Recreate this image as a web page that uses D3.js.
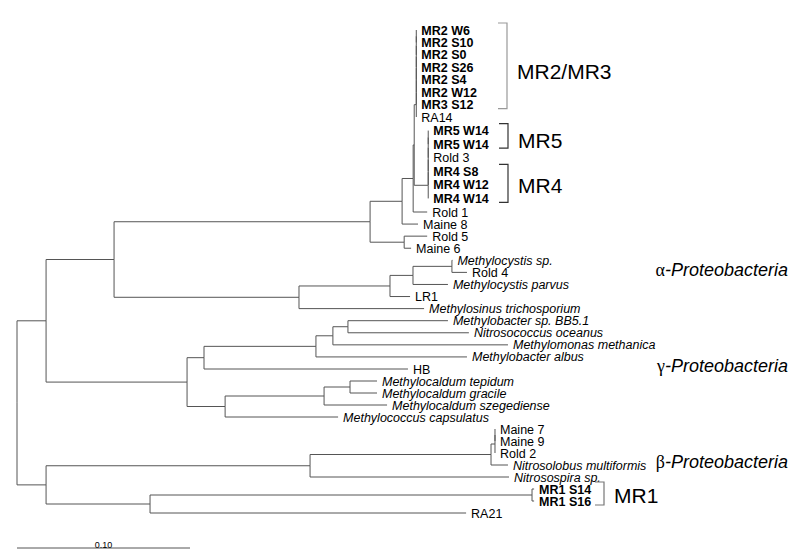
<!DOCTYPE html>
<html>
<head>
<meta charset="utf-8">
<script src="https://cdn.jsdelivr.net/npm/d3@7"></script>
<style>
body { margin: 0; background: #fff; }
text { font-family: "Liberation Sans", Arial, sans-serif; }
</style>
</head>
<body>
<svg id="tree"></svg>
<script>

// tree: [node, parent, branch length]  (children listed in display order)
var branches = [
  ["root", null, 0],
  ["A", "root", 0.0168],
  ["al", "A", 0.0393],
  ["a1", "al", 0.1480],
  ["a2", "a1", 0.0185],
  ["a3", "a2", 0.0064],
  ["a4", "a3", 0.0006],
  ["m23", "a4", 0.0012],
  ["m23a", "m23", 0], ["m23b", "m23a", 0], ["m23c", "m23b", 0],
  ["m23d", "m23c", 0], ["m23e", "m23d", 0], ["m23f", "m23e", 0],
  ["MR2 W6", "m23f", 0], ["MR2 S10", "m23f", 0], ["MR2 S0", "m23e", 0],
  ["MR2 S26", "m23d", 0], ["MR2 S4", "m23c", 0], ["MR2 W12", "m23b", 0],
  ["MR3 S12", "m23a", 0], ["RA14", "m23", 0],
  ["m45", "a4", 0.0081],
  ["m45a", "m45", 0], ["m45b", "m45a", 0], ["m45c", "m45b", 0], ["m45d", "m45c", 0],
  ["MR5 W14", "m45d", 0], ["MR5 W14#2", "m45d", 0], ["Rold 3", "m45c", 0],
  ["MR4 S8", "m45b", 0], ["MR4 W12", "m45a", 0], ["MR4 W14", "m45", 0],
  ["Rold 1", "a3", 0.0081],
  ["Maine 8", "a2", 0.0092],
  ["a5", "a1", 0.0197],
  ["Rold 5", "a5", 0.0133],
  ["Maine 6", "a5", 0.0040],
  ["a6", "al", 0.1069],
  ["a7", "a6", 0.0526],
  ["a8", "a7", 0.0133],
  ["a9", "a8", 0.0225],
  ["Methylocystis sp.", "a9", 0.0003],
  ["Rold 4", "a9", 0.0087],
  ["Methylocystis parvus", "a8", 0.0202],
  ["LR1", "a7", 0.0116],
  ["Methylosinus trichosporium", "a6", 0.0723],
  ["ga", "A", 0.0815],
  ["g1", "ga", 0.0098],
  ["g2", "g1", 0.0647],
  ["g3", "g2", 0.0098],
  ["g4", "g3", 0.0087],
  ["Methylobacter sp. BB5.1", "g4", 0.0578],
  ["Nitrosococcus oceanus", "g4", 0.0699],
  ["Methylomonas methanica", "g3", 0.1012],
  ["Methylobacter albus", "g2", 0.0873],
  ["HB", "g1", 0.1179],
  ["g5", "ga", 0.0220],
  ["g6", "g5", 0.0572],
  ["g7", "g6", 0.0150],
  ["Methylocaldum tepidum", "g7", 0.0156],
  ["Methylocaldum gracile", "g7", 0.0156],
  ["Methylocaldum szegediense", "g6", 0.0364],
  ["Methylococcus capsulatus", "g5", 0.0653],
  ["B", "root", 0.0168],
  ["b1", "B", 0.1526],
  ["b2", "b1", 0.1046],
  ["b3", "b2", 0.0023],
  ["b3a", "b3", 0],
  ["Maine 7", "b3a", 0], ["Maine 9", "b3a", 0], ["Rold 2", "b3", 0],
  ["Nitrosolobus multiformis", "b2", 0.0098],
  ["Nitrosospira sp.", "b1", 0.1150],
  ["b4", "B", 0.0601],
  ["b5", "b4", 0.2208],
  ["MR1 S14", "b5", 0.0012], ["MR1 S16", "b5", 0.0012],
  ["RA21", "b4", 0.1827]
];

var italicLeaves = ["Methylocystis sp.", "Methylocystis parvus", "Methylosinus trichosporium",
  "Methylobacter sp. BB5.1", "Nitrosococcus oceanus", "Methylomonas methanica",
  "Methylobacter albus", "Methylocaldum tepidum", "Methylocaldum gracile",
  "Methylocaldum szegediense", "Methylococcus capsulatus", "Nitrosolobus multiformis",
  "Nitrosospira sp."];

// bracketed sample groups
var groupNames = ["MR2/MR3", "MR5", "MR4", "MR1"];
var groupFirst = ["MR2 W6", "MR5 W14", "MR4 S8", "MR1 S14"];
var groupLast  = ["MR3 S12", "MR5 W14#2", "MR4 W14", "MR1 S16"];

// class labels, placed on the row of a leaf
var cladeGreek = ["\u03b1", "\u03b3", "\u03b2"];
var cladeNames = ["-Proteobacteria", "-Proteobacteria", "-Proteobacteria"];
var cladeRow   = ["Rold 4", "HB", "Nitrosolobus multiformis"];

var scaleBar = [0, 0.10];
var scaleLabel = "0.10";

// styles for the brackets
var bracketStyle = {
  "MR2/MR3": {x: 507, color: "#999", size: 21, dy: 6},
  "MR5":     {x: 508, color: "#333", size: 21, dy: 5},
  "MR4":     {x: 508, color: "#333", size: 21, dy: 2},
  "MR1":     {x: 604, color: "#777", size: 21, dy: 2}
};

var width = 800, height = 559;

var svg = d3.select("#tree")
    .attr("width", width)
    .attr("height", height);

var x = d3.scaleLinear().domain([0, 0.1]).range([17, 190]);
// leaf rows (slightly wider spacing at the top, as in the figure)
var y = d3.scaleLinear().domain([0, 7, 14, 27, 39]).range([30, 117, 212, 369, 513]);

var root = d3.stratify()
    .id(function(d) { return d[0]; })
    .parentId(function(d) { return d[1]; })(branches);

root.eachBefore(function(n) {
  n.dist = n.parent ? n.parent.dist + n.data[2] : 0;
});
var leaves = root.leaves();
leaves.forEach(function(n, i) { n.row = i; n.py = y(i); });
root.eachAfter(function(n) {
  if (n.children) n.py = (n.children[0].py + n.children[n.children.length - 1].py) / 2;
});
var byId = {};
root.each(function(n) { byId[n.id] = n; });

// elbow links
svg.append("g")
    .attr("fill", "none")
    .attr("stroke", "#555")
    .attr("stroke-width", 1)
  .selectAll("path")
  .data(root.links())
  .enter().append("path")
    .attr("d", function(l) {
      return "M" + x(l.source.dist) + "," + l.source.py +
             "V" + l.target.py + "H" + x(l.target.dist);
    });

// leaf labels
svg.append("g")
  .selectAll("text")
  .data(leaves)
  .enter().append("text")
    .attr("x", function(d) { return x(d.dist) + 5; })
    .attr("y", function(d) { return d.py; })
    .attr("dy", "0.36em")
    .style("font-size", "12.5px")
    .style("font-weight", function(d) { return d.id.indexOf("MR") === 0 ? "bold" : "normal"; })
    .style("font-style", function(d) { return italicLeaves.indexOf(d.id) >= 0 ? "italic" : "normal"; })
    .text(function(d) { return d.id.replace(/#.*/, ""); });

// brackets
groupNames.forEach(function(g, i) {
  var s = bracketStyle[g];
  var y0 = byId[groupFirst[i]].py - 7, y1 = byId[groupLast[i]].py + 4;
  svg.append("path")
      .attr("fill", "none")
      .attr("stroke", s.color)
      .attr("stroke-width", 1.2)
      .attr("d", "M" + (s.x - 9) + "," + y0 + "H" + s.x + "V" + y1 + "H" + (s.x - 9));
  svg.append("text")
      .attr("x", s.x + 10)
      .attr("y", (y0 + y1) / 2 + s.dy)
      .attr("dy", "0.36em")
      .style("font-size", s.size + "px")
      .text(g);
});

// class labels
cladeNames.forEach(function(c, i) {
  var t = svg.append("text")
      .attr("x", 788)
      .attr("y", byId[cladeRow[i]].py - 3)
      .attr("dy", "0.36em")
      .attr("text-anchor", "end")
      .style("font-size", "18px");
  t.append("tspan")
      .style("font-family", "'Liberation Serif', 'Times New Roman', serif")
      .text(cladeGreek[i]);
  t.append("tspan")
      .style("font-style", "italic")
      .text(c);
});

// scale bar
svg.append("line")
    .attr("x1", x(scaleBar[0])).attr("x2", x(scaleBar[1]))
    .attr("y1", 548).attr("y2", 548)
    .attr("stroke", "#555");
svg.append("text")
    .attr("x", (x(scaleBar[0]) + x(scaleBar[1])) / 2)
    .attr("y", 548)
    .attr("text-anchor", "middle")
    .style("font-size", "9px")
    .text(scaleLabel);

</script>
</body>
</html>
